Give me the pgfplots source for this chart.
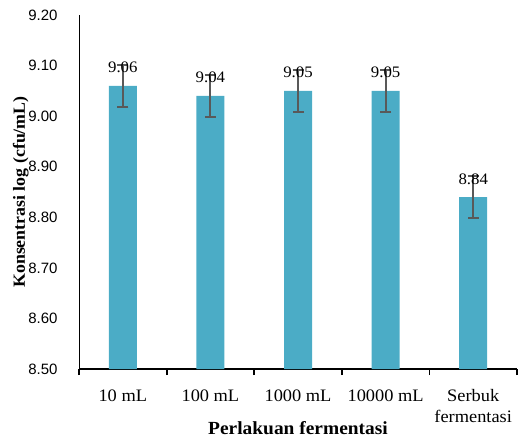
\documentclass[border=0pt]{standalone}
\usepackage{pgfplots}
\pgfplotsset{compat=1.18}
\usepackage{fontspec}
\setmainfont{Liberation Serif}[FakeStretch=1.05]
\newfontfamily\arialfont{Liberation Sans}
\definecolor{barblue}{HTML}{4BACC6}
\definecolor{errgray}{HTML}{595959}

\pgfplotstableread{
x  y     err
0  9.06  0.042
1  9.04  0.042
2  9.05  0.042
3  9.05  0.042
4  8.84  0.042
}\datatable

\begin{document}
\begin{tikzpicture}[x=1pt,y=1pt]
\useasboundingbox (0,0) rectangle (518,437);
\begin{axis}[
  at={(79pt,68pt)}, anchor=south west,
  scale only axis,
  width=438pt, height=354pt,
  xmin=-0.5, xmax=4.5,
  ymin=8.5, ymax=9.2,
  ytick={8.5,8.6,...,9.21},
  axis x line=bottom, axis y line=left,
  axis line style={-},
  x axis line style={line width=1.8pt},
  y axis line style={line width=0.9pt},
  xtick={0,1,2,3,4},
  xticklabels={10 mL, 100 mL, 1000 mL, 10000 mL, {Serbuk\\fermentasi}},
  major x tick style={draw=none},
  minor xtick={-0.5,0.5,1.5,2.5,3.5,4.5},
  minor x tick style={line width=1.8pt, black},
  minor tick length=6pt,
  tick align=outside,
  ytick style={draw=none},
  /pgf/number format/fixed,
  /pgf/number format/fixed zerofill,
  /pgf/number format/precision=2,
  /pgf/number format/assume math mode=true,
  yticklabel style={font=\arialfont\fontsize{15}{17}\selectfont,
    anchor=east, inner sep=0pt, xshift=-17pt},
  xticklabel style={font=\fontsize{17.5}{20.5}\selectfont, align=center,
    anchor=north, inner sep=0pt, yshift=-16pt},
  xlabel={Perlakuan fermentasi},
  xlabel style={font=\bfseries\fontsize{18.5}{20}\selectfont,
    at={(axis description cs:0.5,0)}, anchor=base, yshift=-65pt},
  ylabel={Konsentrasi log (cfu/mL)},
  ylabel style={font=\bfseries\fontsize{17}{19}\selectfont,
    at={(axis description cs:-0.1233,0.5)}, anchor=base},
  clip=false,
]
\addplot[ybar, bar width=28pt, bar shift=0pt, fill=barblue, draw=none,
  nodes near coords,
  every node near coord/.append style={font=\fontsize{16}{18}\selectfont,
    anchor=base, yshift=13pt, inner sep=0pt}]
  table[x=x, y=y] {\datatable};
\addplot[draw=none, mark=none, forget plot,
  error bars/.cd, y dir=both, y explicit,
  error bar style={draw=errgray, line width=2pt},
  error mark options={rotate=90, mark size=5.5pt, draw=errgray, line width=2pt}]
  table[x=x, y=y, y error=err] {\datatable};
\end{axis}
\end{tikzpicture}
\end{document}
